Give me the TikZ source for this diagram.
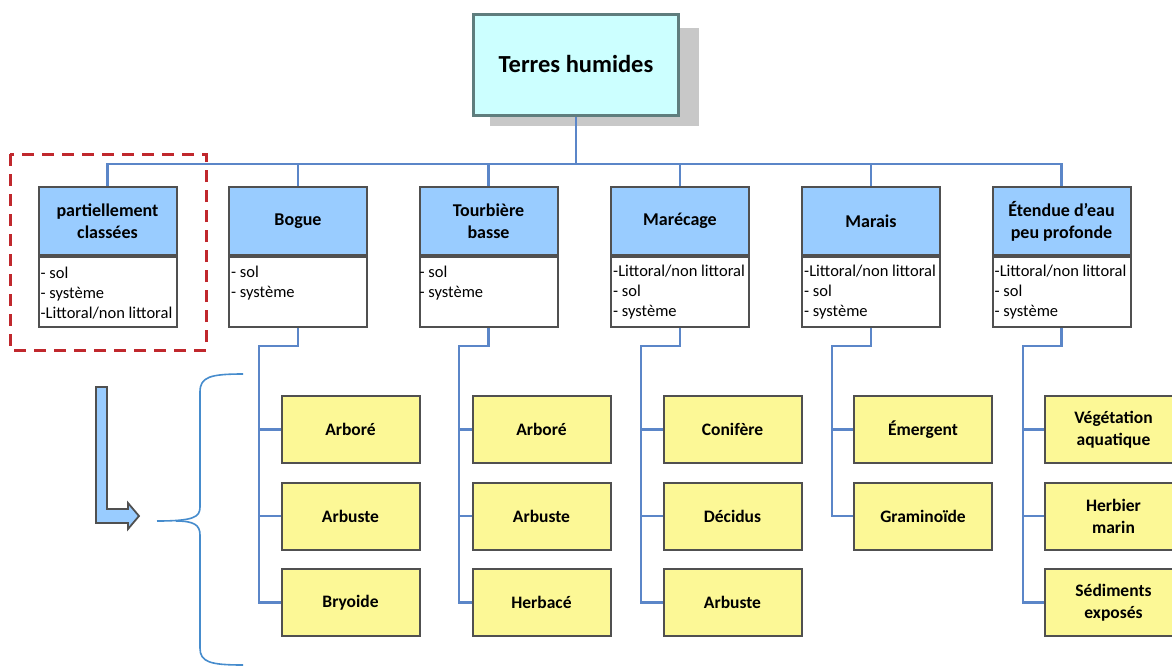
\documentclass[tikz,border=0pt]{standalone}
\usepackage{fontspec}
\setmainfont{Carlito}
\definecolor{conncol}{RGB}{91,134,200}
\definecolor{headblue}{RGB}{153,204,255}
\definecolor{boxyellow}{RGB}{252,248,150}
\definecolor{edgegray}{RGB}{80,80,80}
\definecolor{topfill}{RGB}{204,255,255}
\definecolor{topedge}{RGB}{95,125,125}
\definecolor{shadowgray}{RGB}{200,200,200}
\definecolor{dashred}{RGB}{192,40,45}
\definecolor{bracecol}{RGB}{70,140,205}
\tikzset{
  conn/.style={draw=conncol, line width=2.2},
  headbox/.style={draw=edgegray, line width=2, fill=headblue, minimum width=138, minimum height=68,
    inner sep=0, align=center, font=\fontsize{18}{22}\selectfont\bfseries},
  bodybox/.style={draw=edgegray, line width=2, fill=white, minimum width=138, minimum height=70, inner sep=0},
  bodytext/.style={inner sep=0, anchor=north west, align=left, font=\fontsize{16.5}{20}\selectfont},
  leafbox/.style={draw=edgegray, line width=2, fill=boxyellow, minimum width=138, minimum height=67,
    inner sep=0, align=center, font=\fontsize{17.5}{22}\selectfont\bfseries},
}
\begin{document}
\begin{tikzpicture}[x=1pt, y=-1pt]
\useasboundingbox (0,0) rectangle (1172,667);
\clip (0,0) rectangle (1172,667);
\fill[white] (0,0) rectangle (1172,667);

% top node with shadow
\fill[shadowgray] (490,28) rectangle (699,126);
\node[draw=topedge, line width=3, fill=topfill, minimum width=205, minimum height=101, inner sep=0,
  font=\fontsize{24.5}{28}\selectfont\bfseries] (top) at (576,65) {\raisebox{3pt}{Terres humides}};

% level 2 headers
\node[headbox] (h1) at (107.5,221) {partiellement\\classées};
\node[headbox] (h2) at (298,221) {Bogue};
\node[headbox] (h3) at (488.5,221) {Tourbière\\basse};
\node[headbox] (h4) at (680,221) {Marécage};
\node[headbox] (h5) at (871,221) {Marais};
\node[headbox] (h6) at (1061.5,221) {Étendue d’eau\\peu profonde};

% bodies
\foreach \i in {1,...,6}{
  \node[bodybox, anchor=north] (b\i) at (h\i.south) {};
}
\node[bodytext] (t1) at ([xshift=3,yshift=-11]b1.north west) {- sol\\- système\\-Littoral/non littoral};
\node[bodytext] (t2) at ([xshift=3,yshift=-10]b2.north west) {- sol\\- système};
\node[bodytext] (t3) at ([xshift=1,yshift=-10]b3.north west) {- sol\\- système};
\node[bodytext] (t4) at ([xshift=3,yshift=-9]b4.north west) {-Littoral/non littoral\\- sol\\- système};
\node[bodytext] (t5) at ([xshift=3,yshift=-9]b5.north west) {-Littoral/non littoral\\- sol\\- système};
\node[bodytext] (t6) at ([xshift=3,yshift=-9]b6.north west) {-Littoral/non littoral\\- sol\\- système};

% dashed highlight
\draw[dashred, line width=3, dash pattern=on 12 off 8] (10,154) rectangle (206,350);

% bus connectors
\coordinate (bus) at (576,164);
\draw[conn] (top.south) -- (bus);
\draw[conn] (h1.north) -- (h1.north |- bus) -| (h6.north);
\foreach \i in {2,...,5}{
  \draw[conn] (h\i.north) -- (h\i.north |- bus);
}

% leaves
\node[leafbox] (l21) at (350.5,429.5) {Arboré};
\node[leafbox] (l22) at (350.5,516) {Arbuste};
\node[leafbox] (l23) at (350.5,602.5) {Bryoide};
\node[leafbox] (l31) at (541.5,429.5) {Arboré};
\node[leafbox] (l32) at (541.5,516) {Arbuste};
\node[leafbox] (l33) at (541.5,602.5) {Herbacé};
\node[leafbox] (l41) at (732.5,429.5) {Conifère};
\node[leafbox] (l42) at (732.5,516) {Décidus};
\node[leafbox] (l43) at (732.5,602.5) {Arbuste};
\node[leafbox] (l51) at (923,429.5) {Émergent};
\node[leafbox] (l52) at (923,516) {Graminoïde};
\node[leafbox] (l61) at (1113.5,429.5) {Végétation\\aquatique};
\node[leafbox] (l62) at (1113.5,516) {Herbier\\marin};
\node[leafbox] (l63) at (1113.5,602.5) {Sédiments\\exposés};

% trunks
\coordinate (k2) at (259,346);
\coordinate (k3) at (459,346);
\coordinate (k4) at (641,346);
\coordinate (k5) at (832,346);
\coordinate (k6) at (1023,346);
\draw[conn] (b2.south) |- (k2) |- (l23.west);
\draw[conn] (b3.south) |- (k3) |- (l33.west);
\draw[conn] (b4.south) |- (k4) |- (l43.west);
\draw[conn] (b5.south) |- (k5) |- (l52.west);
\draw[conn] (b6.south) |- (k6) |- (l63.west);
\draw[conn] (l21.west) -- (l21.west -| k2);
\draw[conn] (l22.west) -- (l22.west -| k2);
\draw[conn] (l31.west) -- (l31.west -| k3);
\draw[conn] (l32.west) -- (l32.west -| k3);
\draw[conn] (l41.west) -- (l41.west -| k4);
\draw[conn] (l42.west) -- (l42.west -| k4);
\draw[conn] (l51.west) -- (l51.west -| k5);
\draw[conn] (l61.west) -- (l61.west -| k6);
\draw[conn] (l62.west) -- (l62.west -| k6);

% L-shaped arrow
\draw[draw=edgegray, line width=1.8, fill=headblue, line join=miter]
  (96,387) -- (107,387) -- (107,509) -- (128,509) -- (128,503) -- (139,516)
  -- (128,529) -- (128,523) -- (96,523) -- cycle;

% brace
\draw[bracecol, line width=1.6]
  (243,374) .. controls (210,374) and (200,377) .. (200,392) -- (200,507)
  .. controls (200,517) and (194,521) .. (157,521);
\draw[bracecol, line width=1.6]
  (243,665) .. controls (210,665) and (200,662) .. (200,648) -- (200,535)
  .. controls (200,525) and (194,521) .. (176,521);
\end{tikzpicture}
\end{document}
